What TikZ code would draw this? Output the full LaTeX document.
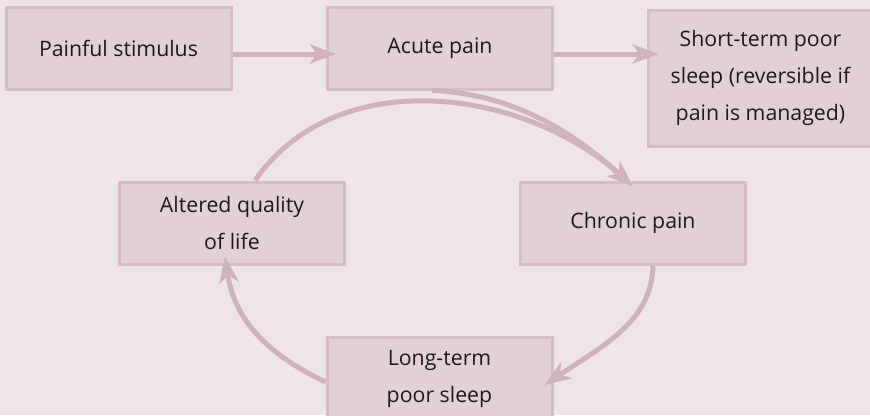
\documentclass[tikz,border=0pt]{standalone}
\usepackage{fontspec}
\setmainfont{Open Sans}
\usetikzlibrary{arrows.meta}
\definecolor{bg}{HTML}{EFE4E8}
\definecolor{boxfill}{HTML}{E3D0D7}
\definecolor{boxline}{HTML}{D8BDC7}
\definecolor{arr}{HTML}{D1B1BD}
\definecolor{txt}{HTML}{1A1A1A}
\tikzset{
  box/.style={draw=boxline, fill=boxfill, line width=3pt, minimum width=225pt, minimum height=82pt,
    inner sep=0pt, align=center, text=txt, font=\fontsize{21.3}{37}\selectfont},
  flow/.style={draw=arr, line width=5pt, -{Stealth[length=26pt,width=19pt,inset=7pt]}}
}
\begin{document}
\begin{tikzpicture}[x=1pt,y=-1pt]
\fill[bg] (0,0) rectangle (870,415);
\clip (0,0) rectangle (870,415);
\useasboundingbox (0,0) rectangle (870,415);
\node[box] (ps) at (118.5,48) {Painful stimulus};
\node[box] (ap) at (440,48) {Acute pain};
\node[box, minimum height=136pt] (st) at (760.5,78) {Short-term poor\\sleep (reversible if\\pain is managed)};
\node[box] (aq) at (232,223) {Altered quality\\of life};
\node[box] (cp) at (633,223) {Chronic pain};
\node[box] (lt) at (439.5,378.5) {Long-term\\poor sleep};
\coordinate (a1) at ([yshift=-6pt]ap.east);
\draw[flow, shorten >=-10pt] ([yshift=-6pt]ps.east) -- ([yshift=-6pt]ap.west);
\draw[flow, shorten >=-12pt] (a1) -- (a1 -| st.west);
\draw[flow] ([xshift=23pt]aq.north) .. controls +(82.7,-119) and +(-107.3,-97.1) .. ([yshift=-6pt]cp.north);
\draw[flow] ([xshift=-8pt]ap.south) .. controls +(68,3) and +(-74,-67) .. ([yshift=-6pt]cp.north);
\draw[flow] ([xshift=20pt]cp.south) .. controls +(-1,56) and +(58,-39) .. ([xshift=-9pt,yshift=-6.5pt]lt.east);
\draw[flow] ([yshift=-3.5pt]lt.west) .. controls +(-63,-30) and +(9,60) .. ([xshift=-7pt,yshift=9pt]aq.south);
\end{tikzpicture}
\end{document}
